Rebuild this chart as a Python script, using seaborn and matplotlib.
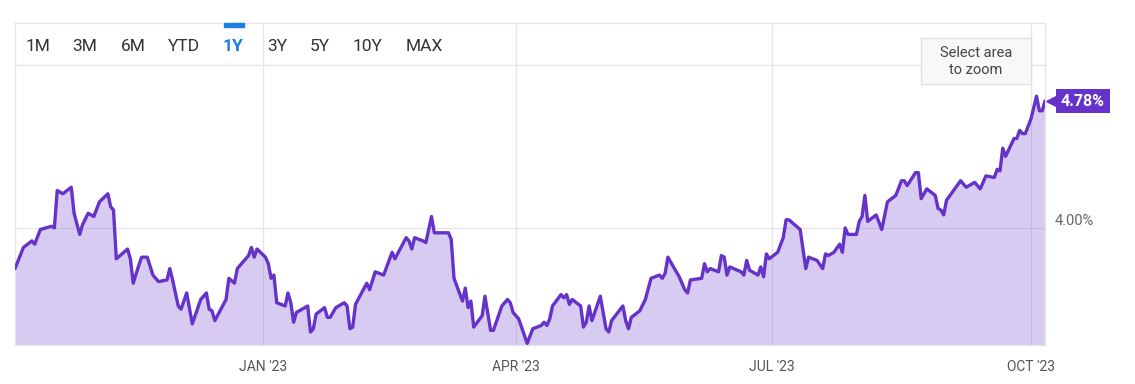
import pandas as pd
import matplotlib.pyplot as plt
import matplotlib.patches as mpatches
from matplotlib.transforms import offset_copy
import seaborn as sns

# values (yield in %)
dates = [
    "2022-10-05", "2022-10-08", "2022-10-11", "2022-10-12", "2022-10-14", "2022-10-16",
    "2022-10-18", "2022-10-19", "2022-10-20", "2022-10-22", "2022-10-25", "2022-10-26",
    "2022-10-28", "2022-10-29", "2022-10-31", "2022-11-02", "2022-11-04", "2022-11-07",
    "2022-11-08", "2022-11-09", "2022-11-10", "2022-11-14", "2022-11-15", "2022-11-16",
    "2022-11-18", "2022-11-19", "2022-11-21", "2022-11-23", "2022-11-25", "2022-11-28",
    "2022-11-29", "2022-11-30", "2022-12-02", "2022-12-03", "2022-12-05", "2022-12-07",
    "2022-12-10", "2022-12-12", "2022-12-13", "2022-12-14", "2022-12-15", "2022-12-19",
    "2022-12-20", "2022-12-22", "2022-12-23", "2022-12-27", "2022-12-28", "2022-12-29",
    "2022-12-30", "2023-01-02", "2023-01-03", "2023-01-04", "2023-01-05", "2023-01-06",
    "2023-01-09", "2023-01-10", "2023-01-11", "2023-01-12", "2023-01-13", "2023-01-17",
    "2023-01-18", "2023-01-19", "2023-01-20", "2023-01-23", "2023-01-24", "2023-01-25",
    "2023-01-27", "2023-01-30", "2023-01-31", "2023-02-01", "2023-02-02", "2023-02-03",
    "2023-02-07", "2023-02-08", "2023-02-10", "2023-02-13", "2023-02-16", "2023-02-17",
    "2023-02-21", "2023-02-22", "2023-02-23", "2023-02-24", "2023-02-27", "2023-02-28",
    "2023-03-02", "2023-03-03", "2023-03-06", "2023-03-07", "2023-03-08", "2023-03-09",
    "2023-03-10", "2023-03-13", "2023-03-14", "2023-03-15", "2023-03-16", "2023-03-17",
    "2023-03-20", "2023-03-21", "2023-03-23", "2023-03-24", "2023-03-27", "2023-03-29",
    "2023-03-30", "2023-03-31", "2023-04-02", "2023-04-05", "2023-04-07", "2023-04-10",
    "2023-04-11", "2023-04-12", "2023-04-13", "2023-04-14", "2023-04-17", "2023-04-18",
    "2023-04-19", "2023-04-20", "2023-04-21", "2023-04-24", "2023-04-25", "2023-04-26",
    "2023-04-27", "2023-04-28", "2023-05-01", "2023-05-03", "2023-05-04", "2023-05-05",
    "2023-05-09", "2023-05-10", "2023-05-11", "2023-05-12", "2023-05-15", "2023-05-17",
    "2023-05-19", "2023-05-22", "2023-05-23", "2023-05-24", "2023-05-25", "2023-05-29",
    "2023-05-31", "2023-06-01", "2023-06-02", "2023-06-06", "2023-06-07", "2023-06-08",
    "2023-06-09", "2023-06-12", "2023-06-13", "2023-06-14", "2023-06-15", "2023-06-16",
    "2023-06-20", "2023-06-21", "2023-06-22", "2023-06-23", "2023-06-26", "2023-06-27",
    "2023-06-28", "2023-06-29", "2023-06-30", "2023-07-03", "2023-07-05", "2023-07-06",
    "2023-07-07", "2023-07-11", "2023-07-13", "2023-07-14", "2023-07-17", "2023-07-19",
    "2023-07-20", "2023-07-21", "2023-07-23", "2023-07-25", "2023-07-26", "2023-07-27",
    "2023-07-28", "2023-07-31", "2023-08-01", "2023-08-02", "2023-08-03", "2023-08-04",
    "2023-08-07", "2023-08-09", "2023-08-11", "2023-08-14", "2023-08-16", "2023-08-17",
    "2023-08-18", "2023-08-21", "2023-08-22", "2023-08-23", "2023-08-25", "2023-08-28",
    "2023-08-29", "2023-08-30", "2023-08-31", "2023-09-01", "2023-09-06", "2023-09-08",
    "2023-09-11", "2023-09-13", "2023-09-15", "2023-09-18", "2023-09-19", "2023-09-20",
    "2023-09-21", "2023-09-22", "2023-09-25", "2023-09-26", "2023-09-27", "2023-09-28",
    "2023-09-29", "2023-10-01", "2023-10-03", "2023-10-04", "2023-10-05", "2023-10-06",
]
yields = [
    3.75, 3.88, 3.92, 3.90, 3.99, 4.00,
    4.01, 4.00, 4.23, 4.21, 4.25, 4.09,
    3.96, 4.02, 4.09, 4.07, 4.16, 4.21,
    4.13, 4.11, 3.81, 3.87, 3.81, 3.66,
    3.77, 3.82, 3.82, 3.71, 3.67, 3.68,
    3.75, 3.68, 3.52, 3.50, 3.60, 3.41,
    3.56, 3.60, 3.50, 3.49, 3.43, 3.56,
    3.69, 3.66, 3.75, 3.83, 3.88, 3.82,
    3.87, 3.82, 3.78, 3.69, 3.71, 3.54,
    3.52, 3.60, 3.54, 3.42, 3.48, 3.52,
    3.36, 3.38, 3.47, 3.51, 3.45, 3.45,
    3.51, 3.54, 3.52, 3.38, 3.39, 3.53,
    3.66, 3.62, 3.73, 3.71, 3.85, 3.81,
    3.94, 3.92, 3.87, 3.94, 3.92, 3.91,
    4.07, 3.97, 3.97, 3.97, 3.97, 3.93,
    3.69, 3.55, 3.63, 3.51, 3.55, 3.39,
    3.46, 3.58, 3.37, 3.37, 3.52, 3.56,
    3.54, 3.48, 3.44, 3.29, 3.38, 3.40,
    3.42, 3.40, 3.44, 3.52, 3.59, 3.57,
    3.59, 3.53, 3.56, 3.52, 3.39, 3.42,
    3.52, 3.43, 3.58, 3.38, 3.36, 3.43,
    3.52, 3.43, 3.38, 3.45, 3.49, 3.56,
    3.69, 3.71, 3.69, 3.72, 3.82, 3.70,
    3.62, 3.60, 3.68, 3.69, 3.78, 3.73,
    3.75, 3.73, 3.83, 3.82, 3.71, 3.76,
    3.73, 3.71, 3.80, 3.74, 3.71, 3.76,
    3.70, 3.84, 3.81, 3.85, 3.94, 4.05,
    4.05, 3.99, 3.75, 3.82, 3.80, 3.75,
    3.84, 3.83, 3.85, 3.90, 3.85, 4.00,
    3.96, 3.96, 4.04, 4.07, 4.20, 4.04,
    4.08, 3.99, 4.16, 4.20, 4.29, 4.29,
    4.26, 4.34, 4.34, 4.18, 4.24, 4.20,
    4.12, 4.11, 4.08, 4.17, 4.29, 4.25,
    4.28, 4.24, 4.32, 4.31, 4.36, 4.35,
    4.49, 4.44, 4.55, 4.55, 4.60, 4.58,
    4.58, 4.67, 4.81, 4.72, 4.72, 4.78,
]

tick_dates = ["2023-01-01", "2023-04-01", "2023-07-01", "2023-10-01"]
tick_labels = ["JAN '23", "APR '23", "JUL '23", "OCT '23"]
ranges = ["1M", "3M", "6M", "YTD", "1Y", "3Y", "5Y", "10Y", "MAX"]
range_x = [38, 85, 133, 184, 233, 277, 320, 368, 424]

df = pd.DataFrame({"date": pd.to_datetime(dates), "yield": yields})

LINE = "#6533c9"
GRID = "#e6e6e6"

sns.set_style("white")
plt.rcParams["font.family"] = ["Roboto", "DejaVu Sans"]

W, H = 1135, 384
fig = plt.figure(figsize=(W / 100, H / 100), dpi=100)
ax = fig.add_axes([15 / W, 39 / H, 1030 / W, 322 / H])

ax.fill_between(df["date"], df["yield"], 3.0, color=LINE, alpha=0.25, lw=0, zorder=2)
sns.lineplot(data=df, x="date", y="yield", ax=ax, color=LINE, lw=2.4, zorder=3)

ax.set_xlim(df["date"].iloc[0], df["date"].iloc[-1])
ax.set_ylim(3.28, 5.26)
ax.set_xlabel("")
ax.set_ylabel("")

ax.set_xticks(pd.to_datetime(tick_dates))
ax.set_xticklabels(tick_labels)
ax.yaxis.tick_right()
ax.set_yticks([4.0, 5.0])
ax.set_yticklabels(["4.00%", ""])
ax.tick_params(axis="x", length=0, pad=11, labelsize=10, labelcolor="#555555")
ax.tick_params(axis="y", length=0, pad=7, labelsize=10.5, labelcolor="#666666")
for lab in ax.get_yticklabels():
    lab.set_va("bottom")  # label sits just above its gridline
ax.grid(True, color=GRID, lw=1)
ax.set_axisbelow(True)
for s in ax.spines.values():
    s.set_color(GRID)
    s.set_linewidth(1)

# range selector buttons
for lab, x in zip(ranges, range_x):
    active = lab == "1Y"
    fig.text(x / W, 1 - 46.5 / H, lab, ha="center", va="center", fontsize=12.5,
             color="#1a7fe0" if active else "#333333",
             fontweight="bold" if active else "normal")
fig.patches.append(mpatches.Rectangle((224 / W, 1 - 27 / H), 20 / W, 4 / H,
                                      transform=fig.transFigure, color="#1a7fe0"))

# zoom hint box
fig.patches.append(mpatches.Rectangle((921 / W, 1 - 84 / H), 110 / W, 46 / H,
                                      transform=fig.transFigure, facecolor="#f7f8f8",
                                      edgecolor="#e0e0e0", lw=1, zorder=5))
fig.text(976 / W, 1 - 61.5 / H, "Select area\nto zoom", ha="center", va="center",
         fontsize=10.5, color="#444444", linespacing=1.25, zorder=6)

# last value tag
last_x, last_y = df["date"].iloc[-1], df["yield"].iloc[-1]
tri = offset_copy(ax.transData, fig=fig, x=11, y=0, units="dots")
ax.plot([last_x], [last_y], marker="<", ms=15, color=LINE, transform=tri, clip_on=False)
ax.annotate(f"{last_y:.2f}%", xy=(last_x, last_y), xytext=(38, 0),
            textcoords="offset pixels", ha="center", va="center", color="white",
            fontsize=11.5, fontweight="bold", annotation_clip=False,
            bbox=dict(boxstyle="square,pad=0.3", fc=LINE, ec="none"))

fig.savefig("out.png", dpi=100)
